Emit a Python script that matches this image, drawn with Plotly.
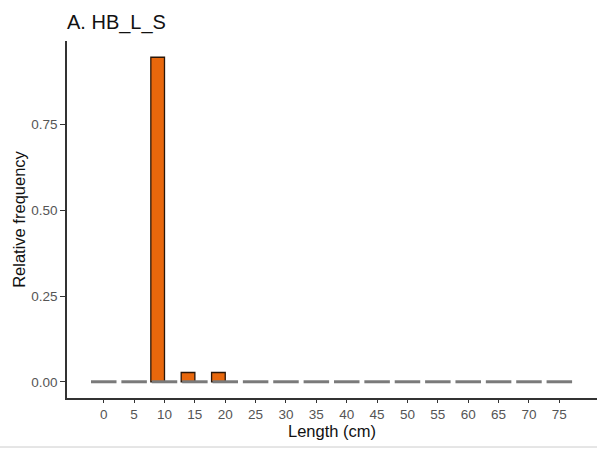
import plotly.graph_objects as go

# Length classes (cm) and relative frequency of each class
lengths = [0, 5, 10, 15, 20, 25, 30, 35, 40, 45, 50, 55, 60, 65, 70, 75]
rel_freq = [0, 0, 0.946, 0.027, 0.027, 0, 0, 0, 0, 0, 0, 0, 0, 0, 0, 0]
tick_vals = [0, 5, 10, 15, 20, 25, 30, 35, 40, 45, 50, 55, 60, 65, 70, 75]
y_ticks = [0.0, 0.25, 0.5, 0.75]
y_tick_text = ["0.00", "0.25", "0.50", "0.75"]

slot = 4.5          # dodge slot width (0.9 of class width)
half = slot / 2

FONT = "Liberation Sans, Arial, sans-serif"

fig = go.Figure()

# zero baseline segments for every class slot
seg_x, seg_y = [], []
for c in lengths:
    seg_x += [c - half + 0.15, c + half - 0.15, None]
    seg_y += [0, 0, None]
fig.add_trace(go.Scatter(
    x=seg_x, y=seg_y, mode="lines",
    line=dict(color="#7a7a7a", width=3),
    hoverinfo="skip", showlegend=False,
))

# frequency bars, dodged to the left half of each slot
bar_x = [c - half / 2 for c, v in zip(lengths, rel_freq) if v > 0]
bar_y = [v for v in rel_freq if v > 0]
fig.add_trace(go.Bar(
    x=bar_x, y=bar_y, width=half,
    marker=dict(color="#E8670C", line=dict(color="#2a1608", width=1.3)),
    showlegend=False,
))

ymax = max(rel_freq)
fig.update_layout(
    width=597, height=449,
    margin=dict(l=67, r=0, t=41, b=51),
    paper_bgcolor="white", plot_bgcolor="white",
    font=dict(family=FONT),
    title=dict(text="A. HB_L_S", x=67 / 597, xanchor="left", y=1 - 22 / 449,
               yanchor="middle", font=dict(size=20, color="#111111")),
    xaxis=dict(
        range=[-6.05, 81.2], tickmode="array", tickvals=tick_vals,
        ticks="outside", ticklen=3, tickwidth=1.2, tickcolor="#333333",
        showline=True, linecolor="#333333", linewidth=1.5,
        showgrid=False, zeroline=False,
        tickfont=dict(size=13.5, color="#555555"),
        title=dict(text="Length (cm)", font=dict(size=16.5, color="#111111"),
                   standoff=2),
    ),
    yaxis=dict(
        range=[-0.05 * ymax, ymax * 1.05], tickmode="array",
        tickvals=y_ticks, ticktext=y_tick_text,
        ticks="outside", ticklen=5, tickwidth=1.2, tickcolor="#333333",
        showline=True, linecolor="#333333", linewidth=1.5,
        showgrid=False, zeroline=False,
        tickfont=dict(size=13.5, color="#555555"),
        title=dict(text="Relative frequency", font=dict(size=16.5, color="#111111"),
                   standoff=1),
    ),
    shapes=[dict(type="line", xref="paper", yref="paper",
                 x0=-67 / 530, x1=1, y0=-49 / 357, y1=-49 / 357,
                 line=dict(color="#cccccc", width=1))],
)

fig.write_html("out.html")
